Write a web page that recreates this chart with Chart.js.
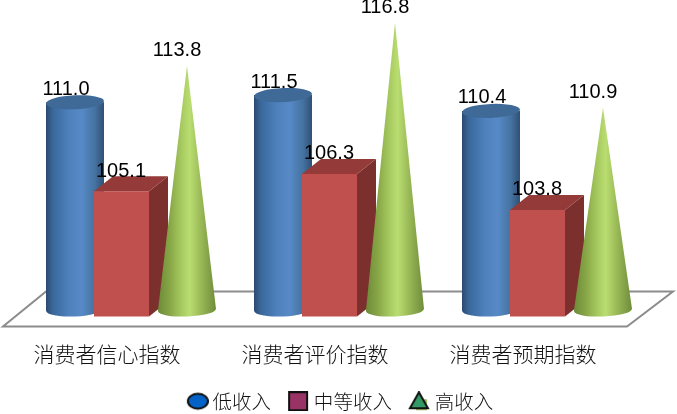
<!doctype html>
<html>
<head>
    <meta charset="utf-8">
    <title>消费者指数</title>
    <script src="https://cdnjs.cloudflare.com/ajax/libs/Chart.js/4.4.1/chart.umd.min.js"></script>
    <style>
        html, body { margin: 0; padding: 0; background: #fff; }
        canvas { display: block; }
    </style>
</head>
<body>
    <canvas id="myChart" width="677" height="414"></canvas>
    <script>
        var categories = ['消费者信心指数', '消费者评价指数', '消费者预期指数'];
        var lowIncome = [111.0, 111.5, 110.4];
        var midIncome = [105.1, 106.3, 103.8];
        var highIncome = [113.8, 116.8, 110.9];
        var seriesNames = ['低收入', '中等收入', '高收入'];

        var CJK = '"Noto Sans CJK SC", "Noto Sans", sans-serif';
        var shift = 24; // 3d projection pushes the marks right of the tick labels

        function marker(draw) {
            var c = document.createElement('canvas');
            c.width = 24;
            c.height = 20;
            draw(c.getContext('2d'));
            return c;
        }
        var legendMarkers = [
            marker(function(g) {
                g.beginPath();
                g.ellipse(13, 10, 10, 7.5, 0, 0, Math.PI * 2);
                g.fillStyle = '#0563c8';
                g.fill();
                g.lineWidth = 2;
                g.strokeStyle = '#111';
                g.stroke();
            }),
            marker(function(g) {
                g.fillStyle = '#993366';
                g.fillRect(3, 1, 18, 18);
                g.lineWidth = 2;
                g.strokeStyle = '#111';
                g.strokeRect(3, 1, 18, 18);
            }),
            marker(function(g) {
                g.fillStyle = '#9bbb59';
                g.fillRect(9, 8, 11, 11);
                g.beginPath();
                g.moveTo(12, 1);
                g.lineTo(21, 17);
                g.lineTo(3, 17);
                g.closePath();
                g.fillStyle = '#339966';
                g.fill();
                g.lineWidth = 2;
                g.strokeStyle = '#111';
                g.stroke();
            })
        ];

        function hGrad(ctx, x0, x1, stops) {
            var g = ctx.createLinearGradient(x0, 0, x1, 0);
            stops.forEach(function(s) { g.addColorStop(s[0], s[1]); });
            return g;
        }

        function drawCylinder(ctx, x, top, bottom) {
            var rx = 29, ry = 7, tilt = -0.045;
            var cyTop = top - 4, cyBot = bottom - 7;
            ctx.beginPath();
            ctx.moveTo(x - rx, cyTop);
            ctx.lineTo(x - rx, cyBot);
            ctx.ellipse(x, cyBot, rx, ry, tilt, Math.PI, 0, true);
            ctx.lineTo(x + rx, cyTop);
            ctx.closePath();
            ctx.fillStyle = hGrad(ctx, x - rx, x + rx, [
                [0, '#2b4a6e'], [0.12, '#3a689c'], [0.4, '#4f81bd'],
                [0.62, '#5689c6'], [0.85, '#44719f'], [1, '#2f5075']
            ]);
            ctx.fill();
            ctx.beginPath();
            ctx.ellipse(x, cyTop, rx, ry, tilt, 0, Math.PI * 2);
            ctx.fillStyle = '#3f6a98';
            ctx.fill();
        }

        function drawBox(ctx, x, top, bottom) {
            var left = x - 37, w = 55, dx = 19, dy = 15;
            ctx.fillStyle = '#7b302e';
            ctx.beginPath();
            ctx.moveTo(left + w, top);
            ctx.lineTo(left + w + dx, top - dy);
            ctx.lineTo(left + w + dx, bottom - dy);
            ctx.lineTo(left + w, bottom);
            ctx.closePath();
            ctx.fill();
            ctx.fillStyle = '#943a38';
            ctx.beginPath();
            ctx.moveTo(left, top);
            ctx.lineTo(left + dx, top - dy);
            ctx.lineTo(left + w + dx, top - dy);
            ctx.lineTo(left + w, top);
            ctx.closePath();
            ctx.fill();
            ctx.fillStyle = '#c0504d';
            ctx.fillRect(left, top, w, bottom - top);
        }

        function drawCone(ctx, x, top, bottom) {
            var rx = 29, ry = 6.5, tilt = -0.04;
            var cyBot = bottom - 6.5;
            ctx.beginPath();
            ctx.moveTo(x, top);
            ctx.lineTo(x - rx, cyBot);
            ctx.ellipse(x, cyBot, rx, ry, tilt, Math.PI, 0, true);
            ctx.closePath();
            ctx.fillStyle = hGrad(ctx, x - rx, x + rx, [
                [0, '#6d8a38'], [0.2, '#87a646'], [0.42, '#a9cc62'],
                [0.55, '#b9dd70'], [0.75, '#98b756'], [1, '#6f8c3a']
            ]);
            ctx.fill();
        }

        var shapes = [drawCylinder, drawBox, drawCone];
        var labelDx = [-9, -10, -10];
        var labelDy = [-18, -21, -16];

        var solids = {
            id: 'solids',
            beforeDatasetsDraw: function(chart) {
                // floor of the 3d plot
                var ctx = chart.ctx, a = chart.chartArea;
                ctx.save();
                ctx.beginPath();
                ctx.moveTo(a.left, a.bottom + 10);
                ctx.lineTo(a.right, a.bottom + 10);
                ctx.lineTo(a.right + 46, a.bottom - 25);
                ctx.lineTo(a.left + 43, a.bottom - 25);
                ctx.closePath();
                ctx.fillStyle = '#fff';
                ctx.fill();
                ctx.lineWidth = 2;
                ctx.strokeStyle = '#8c8c8c';
                ctx.stroke();
                ctx.restore();
            },
            afterDatasetsDraw: function(chart) {
                var ctx = chart.ctx, bottom = chart.chartArea.bottom;
                ctx.save();
                categories.forEach(function(c, i) {
                    shapes.forEach(function(fn, d) {
                        var el = chart.getDatasetMeta(d).data[i];
                        fn(ctx, el.x + shift, el.y, bottom);
                    });
                });
                ctx.fillStyle = '#000';
                ctx.font = '20px "Liberation Sans", sans-serif';
                ctx.textAlign = 'center';
                ctx.textBaseline = 'middle';
                shapes.forEach(function(fn, d) {
                    chart.getDatasetMeta(d).data.forEach(function(el, i) {
                        var v = chart.data.datasets[d].data[i];
                        ctx.fillText(v.toFixed(1), el.x + shift + labelDx[d], el.y + labelDy[d] + 1);
                    });
                });
                ctx.restore();
            }
        };

        var ctx = document.getElementById('myChart').getContext('2d');
        new Chart(ctx, {
            type: 'bar',
            plugins: [solids],
            data: {
                labels: categories,
                datasets: [
                    { label: seriesNames[0], data: lowIncome, backgroundColor: 'transparent' },
                    { label: seriesNames[1], data: midIncome, backgroundColor: 'transparent' },
                    { label: seriesNames[2], data: highIncome, backgroundColor: 'transparent' }
                ]
            },
            options: {
                responsive: false,
                animation: false,
                layout: { padding: { left: 3, right: -4, top: 4, bottom: -7 } },
                datasets: { bar: { barPercentage: 1, categoryPercentage: 0.8077 } },
                scales: {
                    x: {
                        grid: { display: false },
                        border: { display: false },
                        afterFit: function(scale) { scale.height = 54; },
                        ticks: {
                            padding: 17,
                            color: '#111',
                            maxRotation: 0,
                            font: { family: CJK, size: 21, weight: 300 }
                        }
                    },
                    y: {
                        position: 'right',
                        min: 96.4,
                        max: 118.1,
                        grid: { display: false },
                        border: { display: false },
                        ticks: { display: false },
                        afterFit: function(scale) { scale.width = 54; }
                    }
                },
                plugins: {
                    tooltip: { enabled: false },
                    legend: {
                        position: 'bottom',
                        labels: {
                            usePointStyle: true,
                            pointStyleWidth: 12,
                            color: '#111',
                            padding: 21,
                            font: { family: CJK, size: 19.5, weight: 300 },
                            generateLabels: function(chart) {
                                return chart.data.datasets.map(function(ds, i) {
                                    return {
                                        text: ds.label,
                                        pointStyle: legendMarkers[i],
                                        fontColor: '#111',
                                        lineWidth: 0,
                                        strokeStyle: 'transparent',
                                        fillStyle: 'transparent',
                                        datasetIndex: i
                                    };
                                });
                            }
                        }
                    }
                }
            }
        });
    </script>
</body>
</html>
